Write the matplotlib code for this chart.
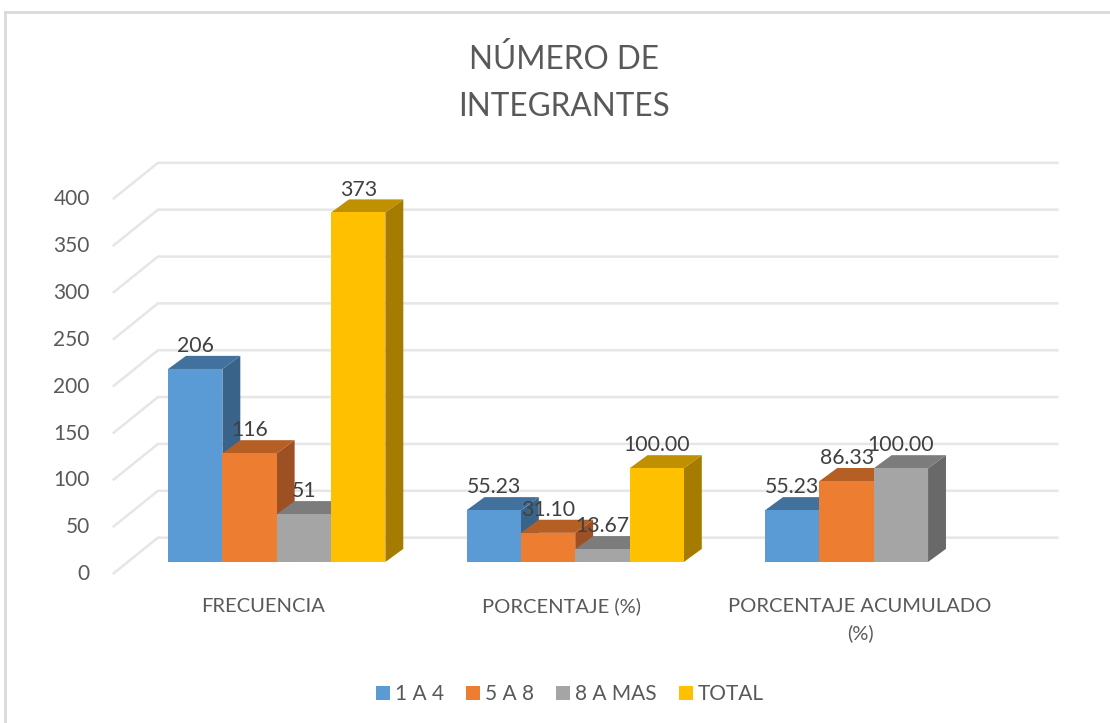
import numpy as np
import matplotlib
matplotlib.use("Agg")
import matplotlib.pyplot as plt
from matplotlib.patches import Patch

categories = ["FRECUENCIA", "PORCENTAJE (%)", "PORCENTAJE ACUMULADO\n(%)"]
series_names = ["1 A 4", "5 A 8", "8 A MAS", "TOTAL"]
v_1a4 = [206, 55.23, 55.23]
v_5a8 = [116, 31.10, 86.33]
v_8mas = [51, 13.67, 100.00]
v_total = [373, 100.00, np.nan]
labels_1a4 = ["206", "55.23", "55.23"]
labels_5a8 = ["116", "31.10", "86.33"]
labels_8mas = ["51", "13.67", "100.00"]
labels_total = ["373", "100.00", ""]
yticks = [0, 50, 100, 150, 200, 250, 300, 350, 400]

series = [v_1a4, v_5a8, v_8mas, v_total]
series_labels = [labels_1a4, labels_5a8, labels_8mas, labels_total]
front_cols = ["#5B9BD5", "#ED7D31", "#A5A5A5", "#FFC000"]
top_cols = ["#41719C", "#B65F24", "#7C7C7C", "#BF9000"]
side_cols = ["#3A6389", "#9C5023", "#696969", "#A67C00"]

W, H = 1110, 723
plt.rcParams["font.family"] = ["Lato", "DejaVu Sans"]
fig = plt.figure(figsize=(W / 100, H / 100), dpi=100, facecolor="white")
ax = fig.add_axes([113.75 / W, (H - 562) / H, 895.5 / W, 374.8 / H])
ax.set_xlim(-0.5, 2.5)
ax.set_ylim(0, 400)
ax.axis("off")

# depth of the fake 3d, in data units
bar_w = 0.182
bar_dx, bar_dy = 0.06, 14
wall_dx, wall_dy = 0.148, 26
wall_end = 0.161
front_dy = -12
group_shift = 0.046

# frame
grey = "#D9D9D9"
fig.add_artist(plt.Line2D([5 / W, 5 / W], [0, (H - 12) / H], color=grey, lw=2))
fig.add_artist(plt.Line2D([5 / W, 1], [(H - 12) / H, (H - 12) / H], color=grey, lw=2))

# gridlines with floor/side wall
for t in yticks:
    ax.plot([-0.5, -0.5 + wall_dx, 2.5 + wall_end], [t + front_dy, t + wall_dy, t + wall_dy],
            color="#E6E6E6", lw=1.8, clip_on=False, zorder=1, solid_joinstyle="miter")
    ax.text(-0.5 - 0.08, t - 13, str(t), ha="right", va="center",
            fontsize=15, color="#595959", clip_on=False)

# bars, left to right so each one hides the side of the previous
z = 2
for g in range(len(categories)):
    left = g + group_shift - 2 * bar_w
    for s, vals in enumerate(series):
        v = vals[g]
        if np.isnan(v):
            continue
        x0 = left + s * bar_w
        x1 = x0 + bar_w
        ax.fill([x1, x1 + bar_dx, x1 + bar_dx, x1], [0, bar_dy, v + bar_dy, v],
                color=side_cols[s], lw=0, clip_on=False, zorder=z)
        ax.fill([x0, x0 + bar_dx, x1 + bar_dx, x1], [v, v + bar_dy, v + bar_dy, v],
                color=top_cols[s], lw=0, clip_on=False, zorder=z)
        ax.bar(x0, v, width=bar_w, align="edge", color=front_cols[s], lw=0, clip_on=False, zorder=z)
        z += 1

# data labels go on top of everything
for g in range(len(categories)):
    left = g + group_shift - 2 * bar_w
    for s, vals in enumerate(series):
        if np.isnan(vals[g]):
            continue
        ax.text(left + (s + 0.5) * bar_w, vals[g] + bar_dy + 10.5, series_labels[s][g],
                ha="center", va="center", fontsize=15.3, color="#404040", zorder=100, clip_on=False)

for g, c in enumerate(categories):
    ax.text(g, -38, c, ha="center", va="top", fontsize=14.5, color="#595959",
            linespacing=1.62, clip_on=False)

fig.text(564 / W, (H - 83) / H, "NÚMERO DE\nINTEGRANTES", ha="center", va="center",
         fontsize=22.7, color="#595959", linespacing=1.68)

handles = [Patch(facecolor=c, edgecolor="none") for c in front_cols]
fig.legend(handles, series_names, loc="center", bbox_to_anchor=(570 / W, (H - 694) / H), ncol=4,
           frameon=False, fontsize=15, labelcolor="#595959", handlelength=0.67, handleheight=0.67,
           handletextpad=0.25, columnspacing=1.05, borderpad=0, borderaxespad=0)

fig.savefig("out.png", dpi=100, facecolor="white")
